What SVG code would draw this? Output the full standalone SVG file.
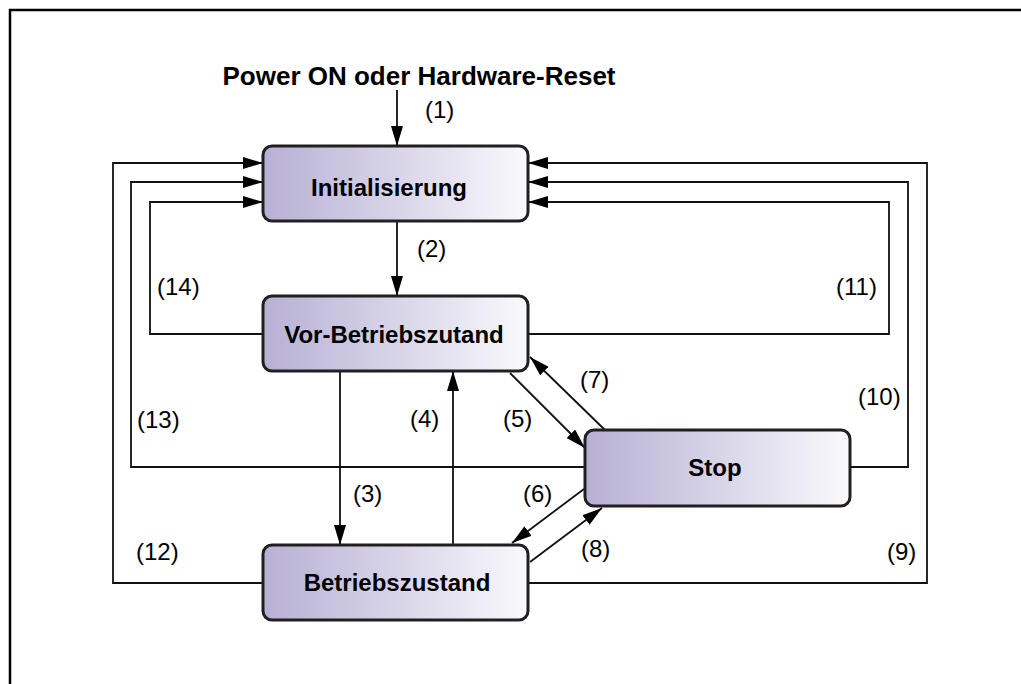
<svg xmlns="http://www.w3.org/2000/svg" width="1021" height="684" viewBox="0 0 1021 684">
  <defs>
    <linearGradient id="boxFill" x1="0" y1="0" x2="1" y2="0">
      <stop offset="0" stop-color="#b7b0d4"/>
      <stop offset="0.5" stop-color="#d8d4e8"/>
      <stop offset="1" stop-color="#faf9fc"/>
    </linearGradient>
    <marker id="arrow" viewBox="0 0 20 12" refX="20" refY="6" markerWidth="20" markerHeight="12" markerUnits="userSpaceOnUse" orient="auto">
      <path d="M0,0 L20,6 L0,12 Z" fill="#000"/>
    </marker>
  </defs>
  <style>
    .frame { fill: #fff; stroke: #000; stroke-width: 2.5; }
    .box { fill: url(#boxFill); stroke: #231f20; stroke-width: 3; }
    .name { font-family: "Liberation Sans", Arial, sans-serif; font-weight: bold; font-size: 24px; fill: #000; text-anchor: middle; }
    .lbl { font-family: "Liberation Sans", Arial, sans-serif; font-size: 24px; fill: #000; }
    .title { font-family: "Liberation Sans", Arial, sans-serif; font-weight: bold; font-size: 26px; fill: #000; text-anchor: middle; }
    .wire { fill: none; stroke: #111; stroke-width: 1.8; }
    .arr { marker-end: url(#arrow); }
  </style>

  <rect class="frame" x="10" y="10" width="1040" height="700"/>

  <text class="title" x="419" y="85">Power ON oder Hardware-Reset</text>

  <g id="connectors">
    <!-- entry and straight transitions -->
    <path class="wire arr" d="M397,90 L397,146"/>
    <path class="wire arr" d="M397,221 L397,296"/>
    <path class="wire arr" d="M340,371 L340,545"/>
    <path class="wire arr" d="M453,545 L453,371"/>
    <!-- diagonals between Vor-Betriebszutand / Stop / Betriebszustand -->
    <path class="wire arr" d="M510,373 L585,448"/>
    <path class="wire arr" d="M605,430 L530,357"/>
    <path class="wire arr" d="M584,489 L512,543"/>
    <path class="wire arr" d="M530,562 L602,508"/>
    <!-- left returns to Initialisierung -->
    <path class="wire arr" d="M263,334 L150,334 L150,202 L263,202"/>
    <path class="wire arr" d="M585,467 L131,467 L131,182 L263,182"/>
    <path class="wire arr" d="M263,583 L113,583 L113,163 L263,163"/>
    <!-- right returns to Initialisierung -->
    <path class="wire arr" d="M528,334 L889,334 L889,202 L528,202"/>
    <path class="wire arr" d="M850,467 L908,467 L908,182 L528,182"/>
    <path class="wire arr" d="M528,583 L927,583 L927,163 L528,163"/>
  </g>

  <g id="labels">
    <text class="lbl" x="425" y="118">(1)</text>
    <text class="lbl" x="417" y="257">(2)</text>
    <text class="lbl" x="353" y="502">(3)</text>
    <text class="lbl" x="410" y="427">(4)</text>
    <text class="lbl" x="503" y="427">(5)</text>
    <text class="lbl" x="523" y="502">(6)</text>
    <text class="lbl" x="580" y="388">(7)</text>
    <text class="lbl" x="581" y="557">(8)</text>
    <text class="lbl" x="887" y="560">(9)</text>
    <text class="lbl" x="858" y="405">(10)</text>
    <text class="lbl" x="836" y="295">(11)</text>
    <text class="lbl" x="136" y="560">(12)</text>
    <text class="lbl" x="137" y="428">(13)</text>
    <text class="lbl" x="157" y="295">(14)</text>
  </g>

  <g id="initialisierung">
    <rect class="box" x="263" y="146" width="265" height="75" rx="9"/>
    <text class="name" x="389" y="196">Initialisierung</text>
  </g>
  <g id="vor-betriebszutand">
    <rect class="box" x="263" y="296" width="265" height="75" rx="9"/>
    <text class="name" x="394" y="343">Vor-Betriebszutand</text>
  </g>
  <g id="stop">
    <rect class="box" x="585" y="430" width="265" height="76" rx="9"/>
    <text class="name" x="715" y="476">Stop</text>
  </g>
  <g id="betriebszustand">
    <rect class="box" x="263" y="545" width="265" height="75" rx="9"/>
    <text class="name" x="397" y="591">Betriebszustand</text>
  </g>
</svg>
